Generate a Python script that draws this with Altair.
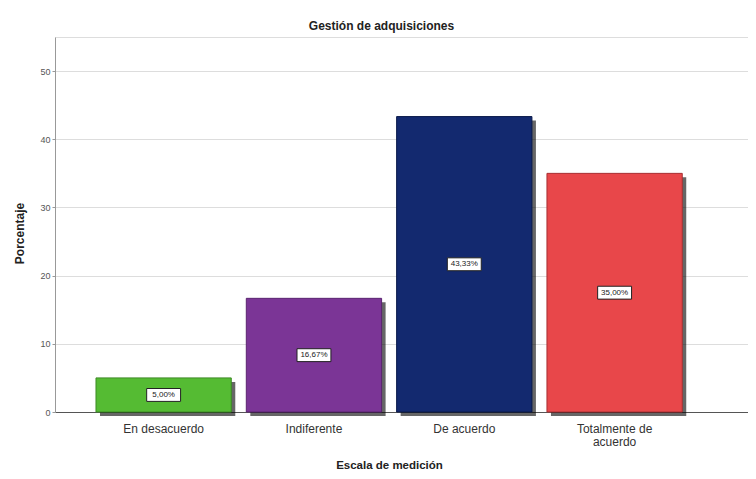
import altair as alt
import pandas as pd

categorias = ["En desacuerdo", "Indiferente", "De acuerdo", "Totalmente de acuerdo"]
porcentajes = [5.00, 16.67, 43.33, 35.00]
etiquetas = ["5,00%", "16,67%", "43,33%", "35,00%"]
colores = ["#55bb33", "#7b3596", "#13296f", "#e8474a"]
bordes = ["#3d8a25", "#5a2470", "#0a1a4a", "#a83033"]

df = pd.DataFrame({
    "cat": categorias,
    "pct": porcentajes,
    "mid": [p / 2 for p in porcentajes],
    "lab": etiquetas,
    "color": colores,
    "borde": bordes,
})

FONT = "Liberation Sans"

x = alt.X(
    "cat:N",
    sort=categorias,
    scale=alt.Scale(paddingInner=0.1, paddingOuter=0.355, align=0.384),
    axis=alt.Axis(
        title="Escala de medición",
        labelAngle=0,
        labelFontSize=12,
        labelColor="#333333",
        labelFont=FONT,
        labelPadding=11,
        labelLineHeight=13,
        labelExpr="datum.label == 'Totalmente de acuerdo' ? ['Totalmente de', 'acuerdo'] : datum.label",
        ticks=False,
        domainColor="#555555",
        titleFont=FONT,
        titleFontSize=11.5,
        titleFontWeight="bold",
        titleColor="#222222",
        titleY=47,
        titleX=334,
        titleBaseline="top",
    ),
)

y_scale = alt.Scale(domain=[0, 55], nice=False)
y_axis = alt.Axis(
    title="Porcentaje",
    values=[0, 10, 20, 30, 40, 50],
    labelFontSize=9,
    labelColor="#555555",
    labelFont=FONT,
    tickSize=3,
    tickColor="#999999",
    domainColor="#999999",
    gridColor="#dddddd",
    titleFont=FONT,
    titleFontSize=12,
    titleFontWeight="bold",
    titleColor="#222222",
    titleX=-36,
    titleY=196,
    titleAlign="center",
    titleBaseline="middle",
)

base = alt.Chart(df)

shadow = base.mark_bar(xOffset=4, yOffset=4, color="#000000", opacity=0.6).encode(
    x=x,
    y=alt.Y("pct:Q", scale=y_scale, axis=y_axis),
)

bars = base.mark_bar(strokeWidth=1).encode(
    x=x,
    y=alt.Y("pct:Q", scale=y_scale, axis=y_axis),
    color=alt.Color("color:N", scale=None),
    stroke=alt.Stroke("borde:N", scale=None),
)

boxes = base.mark_point(
    shape="M-1,-0.38L1,-0.38L1,0.38L-1,0.38Z",
    size=1150,
    filled=True,
    fill="white",
    stroke="#222222",
    strokeWidth=1,
    opacity=1,
).encode(
    x=x,
    y=alt.Y("mid:Q", scale=y_scale),
)

texts = base.mark_text(fontSize=8, font=FONT, color="#222222").encode(
    x=x,
    y=alt.Y("mid:Q", scale=y_scale),
    text="lab:N",
)

chart = (
    alt.layer(shadow, bars, boxes, texts)
    .properties(
        width=693,
        height=375,
        title=alt.TitleParams(
            "Gestión de adquisiciones",
            font=FONT,
            fontSize=12,
            fontWeight="bold",
            color="#222222",
            dx=-20,
            dy=13,
            offset=5,
            baseline="bottom",
        ),
        autosize=alt.AutoSizeParams(type="none"),
        padding={"left": 47, "top": 29, "right": 0, "bottom": 59},
    )
    .configure_view(stroke=None)
    .configure(background="white")
)

chart.save("out.html", embed_options={"renderer": "svg", "actions": False})
